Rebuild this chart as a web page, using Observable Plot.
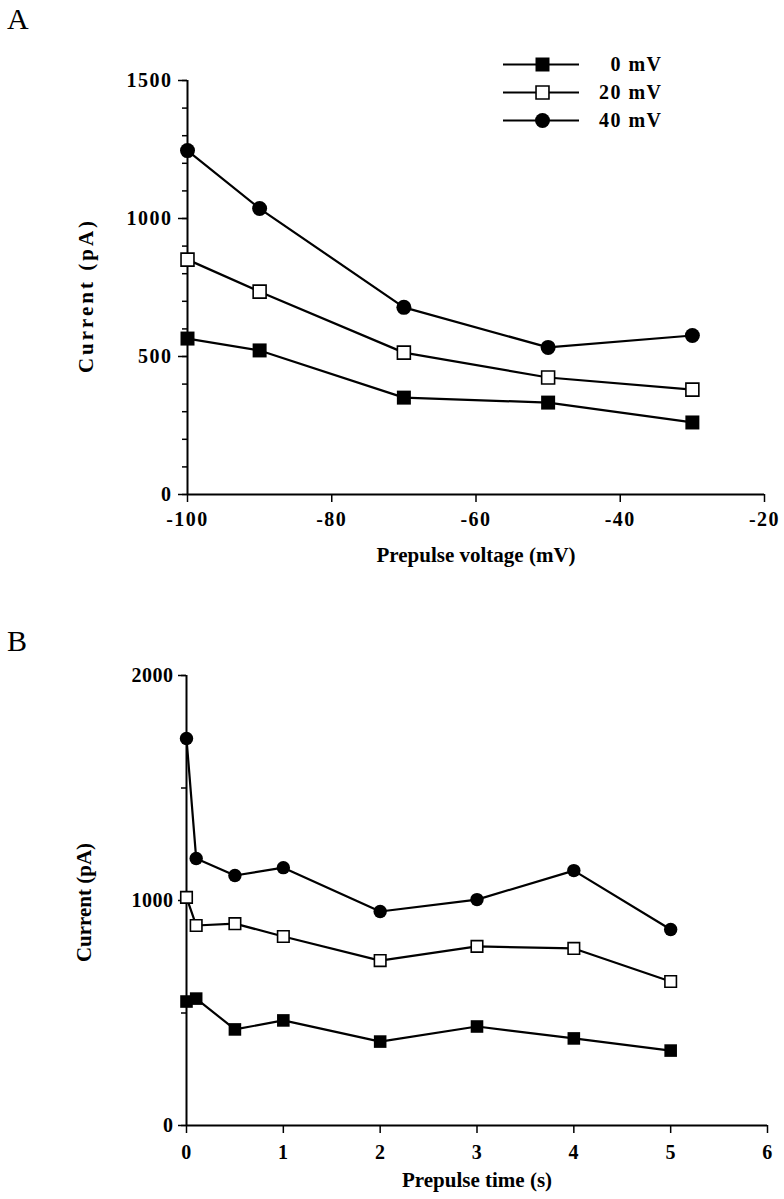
<!DOCTYPE html>
<html>
<head>
<meta charset="utf-8">
<script src="https://cdn.jsdelivr.net/npm/d3@7"></script>
<script src="https://cdn.jsdelivr.net/npm/@observablehq/plot@0.6"></script>
<style>
  html, body { margin: 0; padding: 0; background: #fff; }
  #root { position: relative; width: 784px; height: 1199px; overflow: hidden; background: #fff; }
  .panel { position: absolute; left: 0; }
  .letter { position: absolute; font-family: 'Liberation Serif', 'Times New Roman', serif; font-size: 30px; line-height: 1; color: #000; }
</style>
</head>
<body>
<div id="root"></div>
<script>
// ---------- data ----------
const seriesNames = ["0 mV", "20 mV", "40 mV"];

// Panel A: current vs prepulse voltage
const voltageX = [-100, -90, -70, -50, -30];
const currentA0 = [565, 522, 351, 333, 261];
const currentA20 = [851, 735, 514, 424, 380];
const currentA40 = [1246, 1036, 678, 533, 576];
const xTicksA = [-100, -80, -60, -40, -20];
const yTicksA = [0, 500, 1000, 1500];
const yMinorA = d3.range(0, 1501, 100);

// Panel B: current vs prepulse time
const timeX = [0, 0.1, 0.5, 1, 2, 3, 4, 5];
const currentB0 = [551, 564, 427, 467, 373, 440, 387, 333];
const currentB20 = [1014, 889, 897, 840, 733, 796, 787, 640];
const currentB40 = [1720, 1187, 1111, 1146, 951, 1004, 1133, 871];
const xTicksB = [0, 1, 2, 3, 4, 5, 6];
const yTicksB = [0, 1000, 2000];
const yMinorB = [0, 500, 1000, 1500, 2000];

// ---------- helpers ----------
const fmt = d => (d < 0 ? "-" + Math.abs(d) : String(d));
function tidy(xs, lists) {
  const rows = [];
  lists.forEach((vals, i) => vals.forEach((v, j) => rows.push({series: seriesNames[i], x: xs[j], y: v})));
  return rows;
}
const rowsA = tidy(voltageX, [currentA0, currentA20, currentA40]);
const rowsB = tidy(timeX, [currentB0, currentB20, currentB40]);

const baseStyle = {
  fontFamily: "'Liberation Serif', 'Times New Roman', serif",
  fontSize: "20px",
  fontWeight: "bold",
  color: "black",
  background: "white",
  overflow: "visible"
};

function seriesMarks(rows, sq, ci) {
  const s0 = rows.filter(d => d.series === seriesNames[0]);
  const s1 = rows.filter(d => d.series === seriesNames[1]);
  const s2 = rows.filter(d => d.series === seriesNames[2]);
  return [
    Plot.line(rows, {x: "x", y: "y", z: "series", stroke: "black", strokeWidth: 2.2}),
    Plot.dot(s0, {x: "x", y: "y", symbol: "square", r: sq, fill: "black", stroke: "none"}),
    Plot.dot(s1, {x: "x", y: "y", symbol: "square", r: sq - 0.6, fill: "white", stroke: "black", strokeWidth: 1.6}),
    Plot.dot(s2, {x: "x", y: "y", symbol: "circle", r: ci, fill: "black", stroke: "none"})
  ];
}

const root = document.getElementById("root");

// ---------- Panel A ----------
const chartA = Plot.plot({
  width: 784, height: 600,
  marginLeft: 187, marginRight: 20, marginTop: 80, marginBottom: 106,
  x: {domain: [-100, -20]},
  y: {domain: [0, 1500]},
  style: {...baseStyle, letterSpacing: "1.5px"},
  marks: [
    Plot.axisY({ticks: yMinorA, tickSize: 5, tickFormat: () => "", label: null, strokeWidth: 1.5}),
    Plot.axisY({ticks: yTicksA, tickSize: 9, tickPadding: 6, tickFormat: fmt, label: null, strokeWidth: 1.5}),
    Plot.axisX({ticks: xTicksA, tickSize: 8, tickPadding: 9, tickFormat: fmt, label: null, strokeWidth: 1.5}),
    Plot.ruleX([-100], {strokeWidth: 2}),
    Plot.ruleY([0], {strokeWidth: 2}),
    ...seriesMarks(rowsA, 7.9, 7.5),
    Plot.text(["Current (pA)"], {frameAnchor: "left", dx: -101, dy: 8, rotate: -90, textAnchor: "middle", lineAnchor: "middle", fontSize: 21}),
    Plot.text(["Prepulse voltage (mV)"], {frameAnchor: "bottom", dy: 61, textAnchor: "middle", lineAnchor: "middle", fontSize: 21})
  ]
});
chartA.classList.add("panel");
chartA.style.top = "0px";
root.appendChild(chartA);
chartA.querySelectorAll("text").forEach(t => {
  if (t.textContent === "Current (pA)") t.style.letterSpacing = "3px";
  if (t.textContent === "Prepulse voltage (mV)") t.style.letterSpacing = "0px";
});

// ---------- Legend (panel A) ----------
const legend = Plot.plot({
  width: 180, height: 96,
  marginLeft: 10, marginRight: 10, marginTop: 20, marginBottom: 20,
  x: {domain: [0, 160], axis: null},
  y: {type: "point", domain: seriesNames, padding: 0, axis: null},
  style: {...baseStyle, background: "transparent", letterSpacing: "1.5px"},
  marks: [
    Plot.ruleY(seriesNames, {y: d => d, x1: 0, x2: 76, stroke: "black", strokeWidth: 1.8}),
    Plot.dot([seriesNames[0]], {x: 39, y: d => d, symbol: "square", r: 7.9, fill: "black"}),
    Plot.dot([seriesNames[1]], {x: 39, y: d => d, symbol: "square", r: 7.3, fill: "white", stroke: "black", strokeWidth: 1.6}),
    Plot.dot([seriesNames[2]], {x: 39, y: d => d, symbol: "circle", r: 7.5, fill: "black"}),
    Plot.text(seriesNames, {x: 159, y: d => d, text: d => d, textAnchor: "end", lineAnchor: "middle"})
  ]
});
legend.style.position = "absolute";
legend.style.left = "493px";
legend.style.top = "44px";
root.appendChild(legend);

// ---------- Panel B ----------
const chartB = Plot.plot({
  width: 784, height: 599,
  marginLeft: 186, marginRight: 17, marginTop: 75, marginBottom: 74,
  x: {domain: [0, 6]},
  y: {domain: [0, 2000]},
  style: {...baseStyle, letterSpacing: "0.5px"},
  marks: [
    Plot.axisY({ticks: yMinorB, tickSize: 5, tickFormat: () => "", label: null, strokeWidth: 1.5}),
    Plot.axisY({ticks: yTicksB, tickSize: 8, tickPadding: 5, tickFormat: fmt, label: null, strokeWidth: 1.5}),
    Plot.axisX({ticks: xTicksB, tickSize: 8, tickPadding: 11, tickFormat: fmt, label: null, strokeWidth: 1.5}),
    Plot.ruleX([0], {strokeWidth: 2}),
    Plot.ruleY([0], {strokeWidth: 2}),
    ...seriesMarks(rowsB, 7.1, 6.7),
    Plot.text(["Current (pA)"], {frameAnchor: "left", dx: -102, dy: 2, rotate: -90, textAnchor: "middle", lineAnchor: "middle", fontSize: 21}),
    Plot.text(["Prepulse time (s)"], {frameAnchor: "bottom", dy: 55, textAnchor: "middle", lineAnchor: "middle", fontSize: 21})
  ]
});
chartB.classList.add("panel");
chartB.style.top = "600px";
root.appendChild(chartB);
chartB.querySelectorAll("text").forEach(t => {
  if (t.textContent === "Current (pA)" || t.textContent === "Prepulse time (s)") t.style.letterSpacing = "0px";
});

// ---------- panel letters ----------
[["A", 7, 4], ["B", 7, 626]].forEach(([t, l, tp]) => {
  const d = document.createElement("div");
  d.className = "letter";
  d.textContent = t;
  d.style.left = l + "px";
  d.style.top = tp + "px";
  root.appendChild(d);
});
</script>
</body>
</html>
